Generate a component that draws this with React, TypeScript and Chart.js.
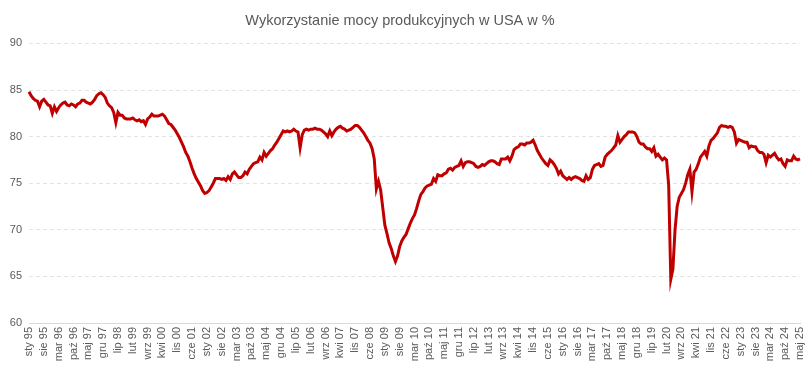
import React, { useEffect, useRef } from "react";
import { Chart, registerables } from "chart.js";

Chart.register(...registerables);

const TITLE = "Wykorzystanie mocy produkcyjnych w USA w %";
const MONTHS = ["sty", "lut", "mar", "kwi", "maj", "cze", "lip", "sie", "wrz", "paź", "lis", "gru"];
const FIRST_YEAR = 1995;
const LABEL_STEP = 7;
const Y_TICKS = [60, 65, 70, 75, 80, 85, 90];

const v1995 = [84.8, 84.4, 84.1, 83.9, 83.8, 83.2, 83.8, 84.0, 83.7, 83.4, 83.3, 82.5];
const v1996 = [83.2, 82.7, 83.1, 83.4, 83.6, 83.7, 83.4, 83.3, 83.5, 83.4, 83.2, 83.5];
const v1997 = [83.6, 83.9, 83.9, 83.7, 83.6, 83.5, 83.7, 84.0, 84.4, 84.6, 84.7, 84.5];
const v1998 = [84.2, 83.6, 83.3, 83.1, 82.6, 81.5, 82.6, 82.3, 82.3, 82.0, 81.9, 81.9];
const v1999 = [81.9, 82.0, 81.8, 81.7, 81.8, 81.6, 81.7, 81.3, 81.9, 82.1, 82.4, 82.2];
const v2000 = [82.2, 82.2, 82.3, 82.4, 82.2, 81.8, 81.4, 81.3, 81.0, 80.7, 80.3, 79.9];
const v2001 = [79.4, 78.9, 78.3, 77.9, 77.3, 76.6, 76.0, 75.5, 75.1, 74.7, 74.2, 73.9];
const v2002 = [74.0, 74.2, 74.6, 75.0, 75.5, 75.5, 75.5, 75.4, 75.5, 75.3, 75.7, 75.4];
const v2003 = [76.0, 76.2, 75.9, 75.6, 75.6, 75.8, 76.2, 76.0, 76.5, 76.8, 77.1, 77.2];
const v2004 = [77.3, 77.8, 77.5, 78.3, 77.9, 78.2, 78.5, 78.7, 79.1, 79.4, 79.8, 80.2];
const v2005 = [80.6, 80.5, 80.6, 80.5, 80.6, 80.8, 80.6, 80.5, 78.8, 80.2, 80.7, 80.8];
const v2006 = [80.7, 80.8, 80.8, 80.9, 80.8, 80.8, 80.7, 80.5, 80.3, 80.0, 80.6, 80.1];
const v2007 = [80.5, 80.8, 81.0, 81.1, 80.9, 80.8, 80.6, 80.7, 80.8, 81.0, 81.2, 81.2];
const v2008 = [81.0, 80.7, 80.4, 80.0, 79.6, 79.3, 78.7, 77.6, 74.4, 75.2, 74.3, 72.4];
const v2009 = [70.5, 69.6, 68.6, 68.0, 67.2, 66.6, 67.2, 68.2, 68.8, 69.2, 69.5, 70.1];
const v2010 = [70.7, 71.2, 71.6, 72.3, 73.1, 73.8, 74.1, 74.5, 74.7, 74.8, 74.9, 75.5];
const v2011 = [75.2, 75.9, 75.8, 75.8, 76.0, 76.1, 76.5, 76.6, 76.4, 76.7, 76.8, 76.9];
const v2012 = [77.4, 76.8, 77.2, 77.3, 77.3, 77.2, 77.1, 76.8, 76.7, 76.8, 77.0, 76.9];
const v2013 = [77.1, 77.3, 77.4, 77.4, 77.3, 77.1, 77.0, 77.6, 77.6, 77.6, 77.8, 77.4];
const v2014 = [77.9, 78.6, 78.8, 78.9, 79.2, 79.2, 79.1, 79.3, 79.3, 79.4, 79.6, 79.1];
const v2015 = [78.5, 78.1, 77.7, 77.4, 77.1, 76.9, 77.5, 77.3, 77.0, 76.6, 76.0, 76.3];
const v2016 = [75.8, 75.6, 75.4, 75.6, 75.4, 75.6, 75.7, 75.6, 75.5, 75.3, 75.2, 75.8];
const v2017 = [75.4, 75.6, 76.5, 76.9, 77.0, 77.1, 76.8, 76.9, 77.8, 78.1, 78.3, 78.5];
const v2018 = [78.8, 79.1, 80.1, 79.4, 79.7, 80.0, 80.2, 80.5, 80.5, 80.5, 80.4, 80.0];
const v2019 = [79.4, 79.2, 79.2, 78.9, 78.7, 78.7, 78.4, 78.8, 77.9, 78.1, 77.8, 77.5];
const v2020 = [77.7, 77.5, 74.8, 64.7, 65.8, 70.0, 72.5, 73.5, 73.9, 74.3, 75.0, 75.9];
const v2021 = [76.5, 74.1, 76.2, 76.5, 77.1, 77.8, 78.1, 78.4, 77.9, 79.0, 79.6, 79.8];
const v2022 = [80.1, 80.4, 81.0, 81.2, 81.1, 81.1, 81.0, 81.1, 81.0, 80.5, 79.3, 79.7];
const v2023 = [79.6, 79.5, 79.4, 79.4, 78.8, 79.0, 78.9, 78.9, 78.5, 78.3, 78.3, 78.1];
const v2024 = [77.2, 78.0, 77.8, 78.0, 78.2, 77.8, 77.5, 77.6, 77.1, 76.8, 77.5, 77.4];
const v2025 = [77.4, 77.9, 77.6, 77.5, 77.6];

const VALUES = [
  ...v1995, ...v1996, ...v1997, ...v1998, ...v1999, ...v2000, ...v2001, ...v2002,
  ...v2003, ...v2004, ...v2005, ...v2006, ...v2007, ...v2008, ...v2009, ...v2010,
  ...v2011, ...v2012, ...v2013, ...v2014, ...v2015, ...v2016, ...v2017, ...v2018,
  ...v2019, ...v2020, ...v2021, ...v2022, ...v2023, ...v2024, ...v2025,
];

const LABELS = VALUES.map((_, i) => {
  const y = FIRST_YEAR + Math.floor(i / 12);
  return MONTHS[i % 12] + " " + String(y % 100).padStart(2, "0");
});

const FONT = "'Liberation Sans', Arial, sans-serif";

export default function App() {
  const ref = useRef<HTMLCanvasElement | null>(null);

  useEffect(() => {
    document.body.style.margin = "0";
    const canvas = ref.current;
    if (!canvas) return;
    const chart = new Chart(canvas, {
      type: "line",
      data: {
        labels: LABELS,
        datasets: [
          {
            data: VALUES,
            borderColor: "#c00000",
            backgroundColor: "#c00000",
            borderWidth: 3,
            pointRadius: 0,
            pointHoverRadius: 0,
            tension: 0,
            fill: false,
          },
        ],
      },
      options: {
        animation: false,
        responsive: false,
        maintainAspectRatio: false,
        layout: { padding: { left: 0, right: 9, top: 0, bottom: 0 } },
        plugins: {
          legend: { display: false },
          tooltip: { enabled: false },
          title: {
            display: true,
            text: TITLE,
            color: "#595959",
            font: { family: FONT, size: 14.5, weight: "normal" },
            padding: { top: 12, bottom: 14 },
          },
        },
        scales: {
          x: {
            type: "category",
            offset: false,
            grid: { display: false, drawTicks: false },
            border: { display: true, color: "#d9d9d9", width: 1 },
            ticks: {
              autoSkip: false,
              maxRotation: 90,
              minRotation: 90,
              padding: 4,
              color: "#595959",
              font: { family: FONT, size: 11 },
              callback: function (_v: any, idx: number) {
                return idx % LABEL_STEP === 0 ? LABELS[idx] : null;
              },
            },
            afterFit: (scale: any) => {
              scale.height = 58;
              scale.paddingLeft = 0;
              scale.paddingRight = 0;
            },
          },
          y: {
            min: 60,
            max: 90,
            afterBuildTicks: (scale: any) => {
              scale.ticks = Y_TICKS.map((v) => ({ value: v }));
            },
            grid: {
              color: "#e3e3e3",
              drawTicks: false,
              lineWidth: 1,
            },
            border: { display: false, dash: [4, 3] },
            ticks: {
              color: "#595959",
              padding: 7,
              font: { family: FONT, size: 11 },
            },
            afterFit: (scale: any) => {
              scale.width = 29;
            },
          },
        },
      },
    });
    return () => chart.destroy();
  }, []);

  return (
    <div style={{ position: "absolute", left: 0, top: 0, width: 809, height: 381 }}>
      <canvas ref={ref} width={809} height={381} style={{ width: 809, height: 381 }} />
    </div>
  );
}
